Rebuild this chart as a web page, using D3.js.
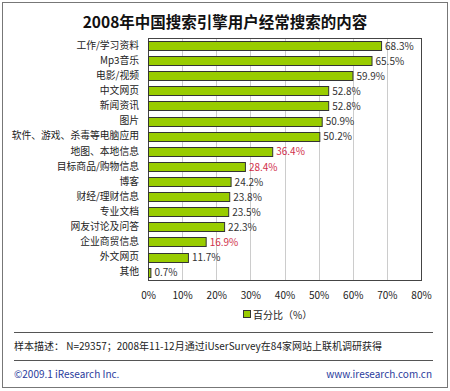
<!DOCTYPE html>
<html><head><meta charset="utf-8">
<script src="https://cdn.jsdelivr.net/npm/d3@7"></script>
<style>body{margin:0;background:#fff}svg{display:block}</style>
</head><body><svg id="c" width="450" height="391"></svg>
<script>
const categories = ["工作/学习资料","Mp3音乐","电影/视频","中文网页","新闻资讯","图片","软件、游戏、杀毒等电脑应用","地图、本地信息","目标商品/购物信息","博客","财经/理财信息","专业文档","网友讨论及问答","企业商贸信息","外文网页","其他"];
const values = [68.3,65.5,59.9,52.8,52.8,50.9,50.2,36.4,28.4,24.2,23.8,23.5,22.3,16.9,11.7,0.7];
const highlighted = ["地图、本地信息","目标商品/购物信息","企业商贸信息"];
const ticks = [0,10,20,30,40,50,60,70,80];
const title = "2008年中国搜索引擎用户经常搜索的内容";
const legendLabel = "百分比（%）";
const note = "样本描述： N=29357；2008年11-12月通过iUserSurvey在84家网站上联机调研获得";
const copyright = "©2009.1 iResearch Inc.";
const site = "www.iresearch.com.cn";

const svg = d3.select("#c");
const font = "'Noto Sans CJK SC', 'DejaVu Sans', sans-serif";
svg.append("rect").attr("x",2.5).attr("y",2.5).attr("width",445).attr("height",385)
  .attr("fill","#fff").attr("stroke","#777").attr("stroke-width",1);

svg.append("text").attr("x",225).attr("y",28).attr("text-anchor","middle")
  .attr("font-family",font).attr("font-size",15.5).attr("font-weight","bold").attr("fill","#111").text(title);

const L=148, R=421, T=38, B=280;
const x = d3.scaleLinear().domain([0,80]).range([L,R]);
const y = d3.scaleBand().domain(categories).range([T,B]).paddingInner(0.38).paddingOuter(0.2);

const g = svg.append("g");
g.selectAll("line.grid").data(ticks.slice(1,-1)).join("line")
  .attr("x1",d=>Math.round(x(d))+0.5).attr("x2",d=>Math.round(x(d))+0.5).attr("y1",T).attr("y2",B)
  .attr("stroke","#ccc").attr("stroke-width",1);
g.append("rect").attr("x",L+0.5).attr("y",T+0.5).attr("width",R-L).attr("height",B-T)
  .attr("fill","none").attr("stroke","#444").attr("stroke-width",1);

const ax = svg.append("g").attr("transform",`translate(0,${B})`)
  .call(d3.axisBottom(x).tickValues(ticks).tickFormat(d=>d+"%").tickSize(0).tickPadding(12));
ax.select(".domain").remove();
ax.selectAll("text").attr("font-family",font).attr("font-size",10).attr("fill","#222");

const ay = svg.append("g").attr("transform",`translate(${L},0)`)
  .call(d3.axisLeft(y).tickSize(0).tickPadding(9));
ay.select(".domain").remove();
ay.selectAll("text").attr("font-family",font).attr("font-size",9.8).attr("fill","#222");

g.selectAll("rect.bar").data(values).join("rect")
  .attr("x",L+0.5).attr("y",(d,i)=>Math.round(y(categories[i]))+0.5)
  .attr("width",d=>x(d)-L).attr("height",Math.round(y.bandwidth()))
  .attr("fill","#99cc00").attr("stroke","#333").attr("stroke-width",1);

g.selectAll("text.val").data(values).join("text")
  .attr("x",d=>x(d)+4).attr("y",(d,i)=>y(categories[i])+y.bandwidth()/2+4)
  .attr("font-family",font).attr("font-size",10)
  .attr("fill",(d,i)=>highlighted.includes(categories[i])?"#d0304a":"#333")
  .text(d=>d.toFixed(1)+"%");

svg.append("rect").attr("x",243.5).attr("y",310.5).attr("width",7).attr("height",7)
  .attr("fill","#99cc00").attr("stroke","#333");
svg.append("text").attr("x",253).attr("y",318.5).attr("font-family",font).attr("font-size",10).attr("fill","#222").text(legendLabel);

svg.append("line").attr("x1",14).attr("x2",433).attr("y1",332.5).attr("y2",332.5).attr("stroke","#555");
svg.append("line").attr("x1",14).attr("x2",433).attr("y1",360.5).attr("y2",360.5).attr("stroke","#555");
svg.append("text").attr("x",14).attr("y",350).attr("font-family",font).attr("font-size",10).attr("fill","#222").text(note);
svg.append("text").attr("x",14).attr("y",378).attr("font-family",font).attr("font-size",10).attr("fill","#2a3b9c").text(copyright);
svg.append("text").attr("x",432).attr("y",378).attr("text-anchor","end").attr("font-family",font).attr("font-size",10).attr("fill","#2a3b9c").text(site);
</script></body></html>
